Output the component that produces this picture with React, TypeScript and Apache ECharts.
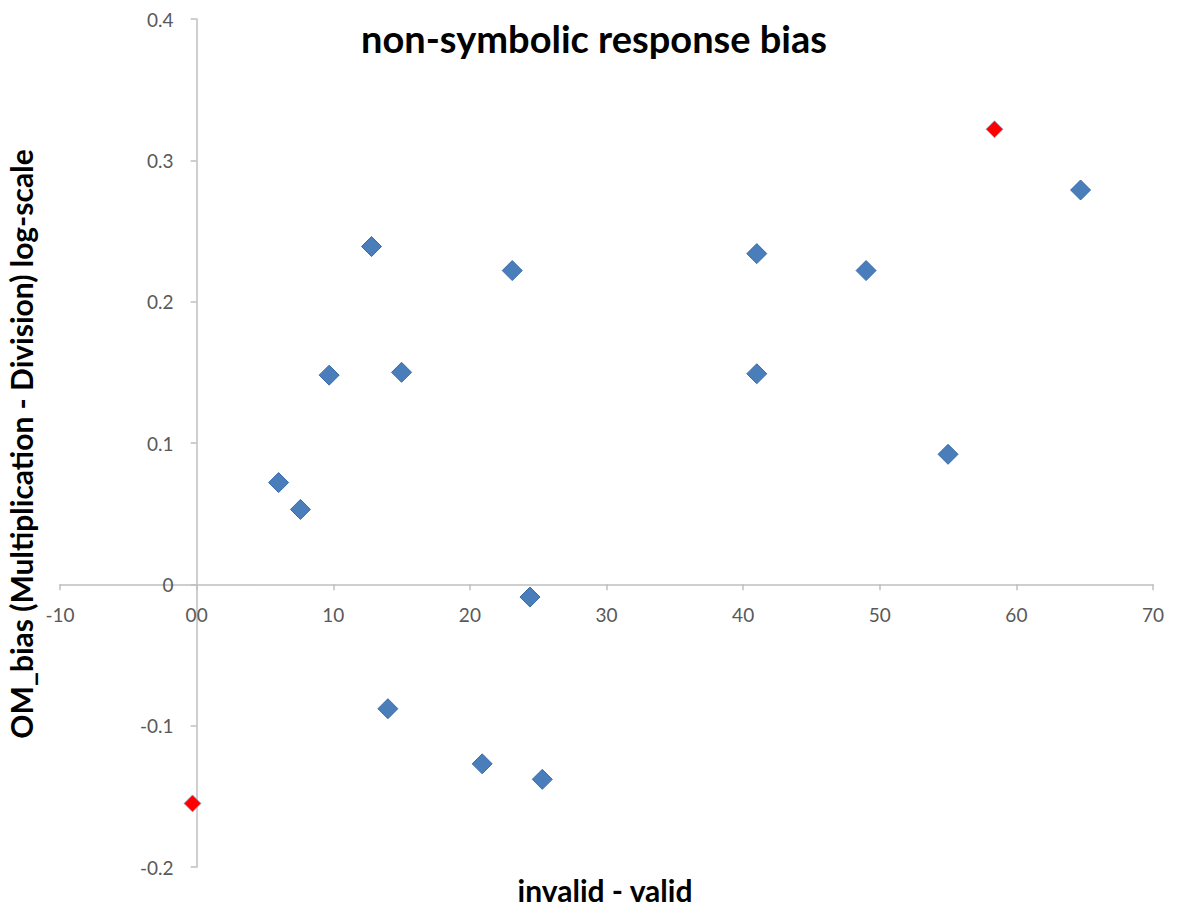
import React, { useEffect, useRef } from "react";
import * as echarts from "echarts";

const titleText = "non-symbolic response bias";
const xAxisName = "invalid - valid";
const yAxisName = "OM_bias (Multiplication - Division) log-scale";

// Blue points: [invalid - valid, OM_bias]
const blueX = [6.0, 7.6, 9.7, 12.8, 15.0, 23.1, 24.4, 14.0, 20.9, 25.3, 41.0, 41.0, 49.0, 55.0, 64.7];
const blueY = [0.072, 0.053, 0.148, 0.239, 0.150, 0.222, -0.009, -0.088, -0.127, -0.138, 0.234, 0.149, 0.222, 0.092, 0.279];
// Red points
const redX = [58.4, -0.3];
const redY = [0.322, -0.155];

const xTickLabels: Record<string, string> = { "-10": "-10", "0": "00", "10": "10", "20": "20", "30": "30", "40": "40", "50": "50", "60": "60", "70": "70" };

const FONT = "Lato, 'Noto Sans', sans-serif";

const W = 1181;
const H = 914;
const GRID = { left: 60, right: 28, top: 19, bottom: 47 };
const X_MIN = -10, X_MAX = 70, Y_MIN = -0.2, Y_MAX = 0.4;

export default function App() {
  const ref = useRef<HTMLDivElement>(null);
  useEffect(() => {
    if (!ref.current) return;
    const chart = echarts.init(ref.current, undefined, { renderer: "svg" });
    const blue = blueX.map((x, i) => [x, blueY[i]]);
    const red = redX.map((x, i) => [x, redY[i]]);
    const gw = W - GRID.left - GRID.right;
    const gh = H - GRID.top - GRID.bottom;
    // shift axes so that they cross at (0, 0)
    const yAxisOffset = -((0 - X_MIN) / (X_MAX - X_MIN)) * gw;
    const xAxisOffset = -((0 - Y_MIN) / (Y_MAX - Y_MIN)) * gh;
    const lineColor = "#bfbfbf";
    chart.setOption({
      animation: false,
      backgroundColor: "#ffffff",
      textStyle: { fontFamily: FONT },
      title: {
        text: titleText,
        left: 589,
        top: 14,
        textAlign: "center",
        textStyle: { fontFamily: FONT, fontWeight: "bold", fontSize: 38, color: "#000000" },
      },
      grid: GRID,
      xAxis: {
        type: "value",
        min: X_MIN,
        max: X_MAX,
        interval: 10,
        position: "bottom",
        offset: xAxisOffset,
        splitLine: { show: false },
        axisLine: { onZero: false, lineStyle: { color: lineColor, width: 1.5 } },
        axisTick: { show: true, length: 6, lineStyle: { color: lineColor, width: 1.5 } },
        axisLabel: {
          margin: 21,
          fontSize: 19,
          color: "#595959",
          fontFamily: FONT,
          formatter: (v: number) => xTickLabels[String(v)] ?? String(v),
        },
      },
      yAxis: {
        type: "value",
        min: Y_MIN,
        max: Y_MAX,
        interval: 0.1,
        position: "left",
        offset: yAxisOffset,
        splitLine: { show: false },
        axisLine: { onZero: false, lineStyle: { color: lineColor, width: 1.5 } },
        axisTick: { show: true, length: 6, lineStyle: { color: lineColor, width: 1.5 } },
        axisLabel: {
          margin: 23,
          fontSize: 19,
          color: "#595959",
          fontFamily: FONT,
          formatter: (v: number) => String(Math.round(v * 10) / 10),
        },
      },
      graphic: [
        {
          type: "text",
          x: 605,
          y: 890,
          style: {
            text: xAxisName,
            fontFamily: FONT,
            fontWeight: "bold",
            fontSize: 30,
            fill: "#000000",
            textAlign: "center",
            textVerticalAlign: "middle",
          },
        },
        {
          type: "text",
          x: 21,
          y: 444,
          rotation: Math.PI / 2,
          style: {
            text: yAxisName,
            fontFamily: FONT,
            fontWeight: "bold",
            fontSize: 30,
            fill: "#000000",
            textAlign: "center",
            textVerticalAlign: "middle",
          },
        },
      ],
      series: [
        {
          type: "scatter",
          data: blue,
          symbol: "diamond",
          symbolSize: 20,
          itemStyle: { color: "#4a7ebb", borderColor: "#3a6cab", borderWidth: 1, opacity: 1 },
        },
        {
          type: "scatter",
          data: red,
          symbol: "diamond",
          symbolSize: 17,
          itemStyle: { color: "#ff0000", borderColor: "#8fa9d6", borderWidth: 0.8, opacity: 1 },
        },
      ],
    });
    return () => chart.dispose();
  }, []);
  return <div ref={ref} style={{ position: "fixed", left: 0, top: 0, width: W, height: H }} />;
}
